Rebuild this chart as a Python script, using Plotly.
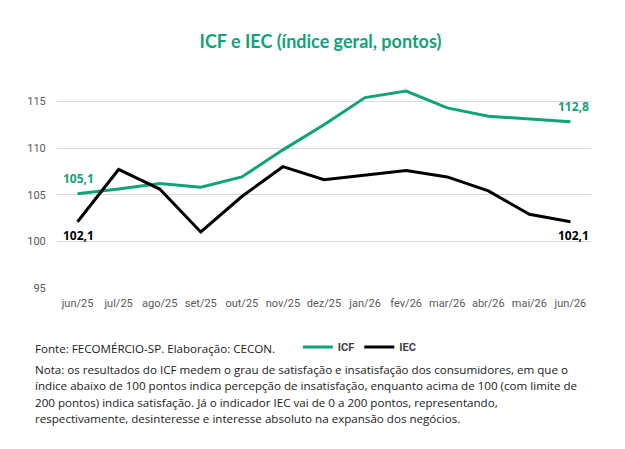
import plotly.graph_objects as go

# dados
meses = ["jun/25", "jul/25", "ago/25", "set/25", "out/25", "nov/25", "dez/25",
         "jan/26", "fev/26", "mar/26", "abr/26", "mai/26", "jun/26"]
icf = [105.1, 105.6, 106.2, 105.8, 106.9, 109.8, 112.5, 115.4, 116.1, 114.3, 113.4, 113.1, 112.8]
iec = [102.1, 107.7, 105.6, 101.0, 104.8, 108.0, 106.6, 107.1, 107.6, 106.9, 105.4, 102.9, 102.1]

fonte = "Fonte: FECOMÉRCIO-SP. Elaboração: CECON."
nota = [
    "Nota: os resultados do ICF medem o grau de satisfação e insatisfação dos consumidores, em que o",
    "índice abaixo de 100 pontos indica percepção de insatisfação, enquanto acima de 100 (com limite de",
    "200 pontos) indica satisfação. Já o indicador IEC vai de 0 a 200 pontos, representando,",
    "respectivamente, desinteresse e interesse absoluto na expansão dos negócios.",
]

VERDE = "#0fa37a"
PRETO = "#000000"


def fmt(v):
    return f"{v:.1f}".replace(".", ",")


fig = go.Figure()
fig.add_trace(go.Scatter(x=meses, y=icf, name="ICF", mode="lines",
                         line=dict(color=VERDE, width=3)))
fig.add_trace(go.Scatter(x=meses, y=iec, name="IEC", mode="lines",
                         line=dict(color=PRETO, width=3)))

# rótulos do primeiro e do último ponto
anots = []
for serie, cor, dy in [(icf, VERDE, 15), (iec, PRETO, -14)]:
    for idx, dx in [(0, 1), (-1, 3)]:
        anots.append(dict(x=meses[idx], y=serie[idx], xref="x", yref="y", text=f"<b>{fmt(serie[idx])}</b>",
                          showarrow=False, xshift=dx, yshift=dy,
                          font=dict(family="Open Sans", size=12, color=cor)))

# rodapé: fonte + nota, uma linha por anotação
anots.append(dict(text=fonte, xref="paper", yref="paper", x=-0.045, y=-0.29,
                  xanchor="left", yanchor="middle", showarrow=False,
                  font=dict(family="Open Sans", size=11.6, color="#1a1a1a")))
for i, linha in enumerate(nota):
    anots.append(dict(text=linha, xref="paper", yref="paper", x=-0.045, y=-0.386 - i * 0.079,
                      xanchor="left", yanchor="middle", showarrow=False,
                      font=dict(family="Open Sans", size=11.6, color="#1a1a1a")))

fig.update_layout(
    width=625, height=449,
    template="plotly_white",
    paper_bgcolor="white", plot_bgcolor="white",
    margin=dict(l=49, r=42, t=70, b=169),
    font=dict(family="Roboto", color="#595959", size=11),
    title=dict(text="<b>ICF e IEC (índice geral, pontos)</b>", x=0.5, xanchor="center",
               y=0.924, yanchor="middle",
               font=dict(family="Lato", size=18, color=VERDE)),
    showlegend=True,
    legend=dict(orientation="h", x=0.451, y=-0.281, xanchor="left", yanchor="middle",
                font=dict(family="Roboto", size=11, color="#404040", weight="bold"),
                itemwidth=30, tracegroupgap=0),
    xaxis=dict(type="category", range=[-0.5, 12.5], showgrid=False, showline=False,
               ticks="outside", ticklen=5, tickcolor="white",
               tickfont=dict(size=11, color="#595959")),
    yaxis=dict(range=[95, 117.5], tick0=95, dtick=5, gridcolor="#d9d9d9", gridwidth=1,
               zeroline=False, showline=False, ticks="outside", ticklen=8, tickcolor="white",
               tickfont=dict(size=11, color="#595959")),
    annotations=anots,
)

fig.write_html("out.html")
